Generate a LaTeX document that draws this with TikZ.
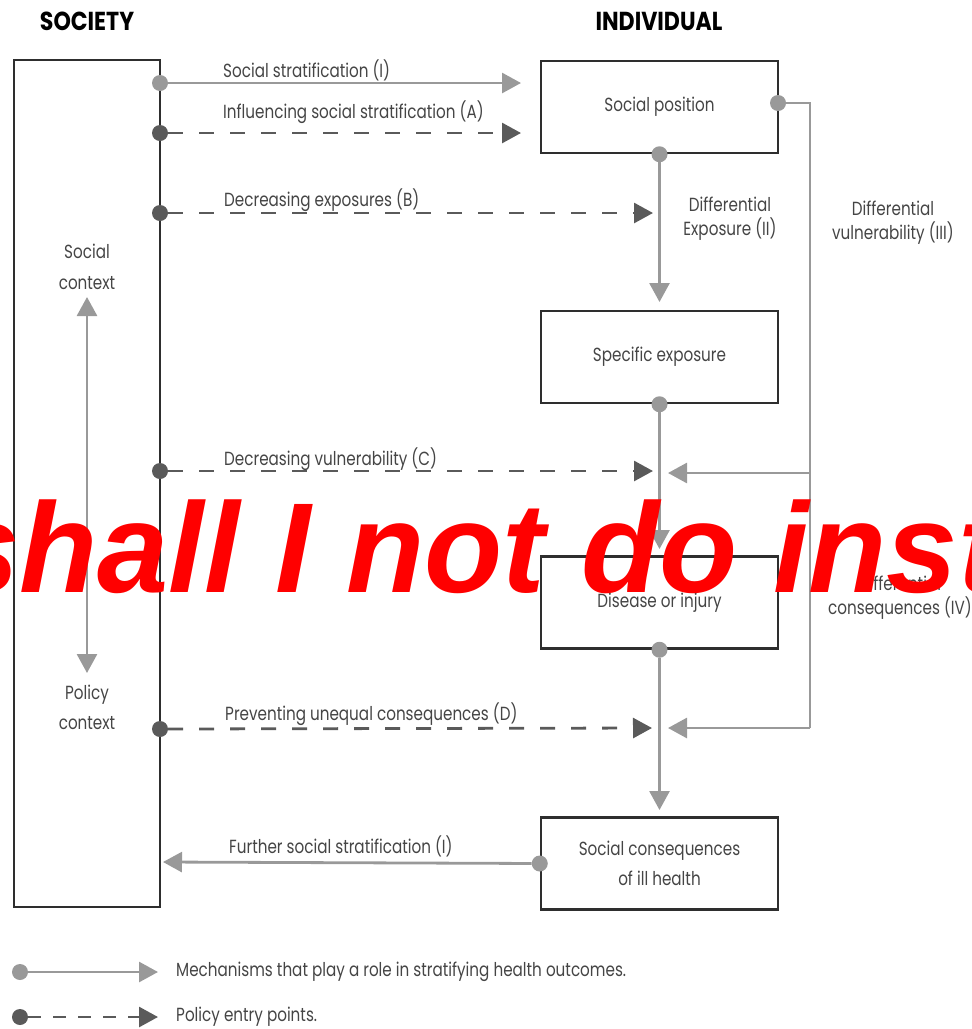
\documentclass[tikz,border=0pt]{standalone}
\usepackage{fontspec}
\setmainfont[FakeStretch=0.8]{Poppins}
\newfontfamily\ttlfont[FakeStretch=0.85]{Poppins}
\newfontfamily\wmfont{Liberation Sans}
\usetikzlibrary{arrows.meta}
\definecolor{mech}{HTML}{999999}
\definecolor{pol}{HTML}{5A5A5A}
\definecolor{boxc}{HTML}{2E2E2E}
\definecolor{txt}{HTML}{454545}
\begin{document}
\begin{tikzpicture}[x=1pt,y=-1pt,
  box/.style={draw=boxc,line width=2.5pt,minimum width=237pt,minimum height=92pt,inner sep=0pt,text=txt,font=\fontsize{19}{30}\selectfont,align=center},
  lbl/.style={text=txt,font=\fontsize{19}{24}\selectfont,inner sep=0pt},
  ttl/.style={text=black,font=\ttlfont\bfseries\fontsize{26}{26}\selectfont,inner sep=0pt},
  mline/.style={draw=mech,line width=2.8pt},
  pline/.style={draw=pol,line width=2.8pt,dash pattern=on 15pt off 16pt},
  mtip/.style={-{Triangle[length=19pt,width=20pt]}},
  mdot/.style={circle,fill=mech,minimum size=16pt,inner sep=0pt},
  pdot/.style={circle,fill=pol,minimum size=16pt,inner sep=0pt},
]
\useasboundingbox (0,0) rectangle (972,1029);
\clip (0,0) rectangle (972,1029);

% titles
\node[ttl] (tsoc) at (87,21) {SOCIETY};
\node[ttl] (tind) at (659,21) {INDIVIDUAL};

% boxes
\node[draw=boxc,line width=2.5pt,minimum width=146pt,minimum height=847pt,inner sep=0pt] (soc) at (87,483.5) {};
\node[box] (sp) at (659.5,107) {\raisebox{-4pt}{Social position}};
\node[box] (se) at (659.5,357) {Specific exposure};
\node[box] (di) at (659.5,602.5) {Disease or injury};
\node[box] (sc) at (659.5,863.5) {Social consequences\\of ill health};

% society inner texts
\node[lbl,align=center,font=\fontsize{19}{31}\selectfont] (ctxs) at (87,267) {Social\\context};
\node[lbl,align=center,font=\fontsize{19}{30}\selectfont] (ctxp) at (87,707) {Policy\\context};
\coordinate (ca) at (87,297);
\coordinate (cb) at (87,673);
\draw[mline,{Triangle[length=19pt,width=20pt]}-{Triangle[length=19pt,width=20pt]}] (ca) -- (cb);

% dots on society
\node[mdot] (d1) at (160,83) {};
\node[pdot] (dA) at (160,133) {};
\node[pdot] (dB) at (160,213) {};
\node[pdot] (dC) at (160,471) {};
\node[pdot] (dD) at (160,729) {};

% tips
\coordinate (t1) at (521,83);
\coordinate (tA) at (521,133);
\coordinate (tB) at (653,213);
\coordinate (tC) at (653,471);
\coordinate (tD) at (652,728);

\draw[mline,mtip] (d1) -- (t1);
\draw[pline,mtip,pol] (dA) -- (tA);
\draw[pline,mtip,pol] (dB) -- (tB);
\draw[pline,mtip,pol] (dC) -- (tC);
\draw[pline,mtip,pol] (dD) -- (tD);

\node[lbl,anchor=base west] (l1) at (223,77) {Social stratification (I)};
\node[lbl,anchor=base west] (lA) at (223,118) {Influencing social stratification (A)};
\node[lbl,anchor=base west] (lB) at (224,206) {Decreasing exposures (B)};
\node[lbl,anchor=base west] (lC) at (224,465) {Decreasing vulnerability (C)};
\node[lbl,anchor=base west] (lD) at (225,720) {Preventing unequal consequences (D)};

% vertical chain
\node[mdot] (sps) at (sp.south) {};
\node[mdot] (ses) at (se.south) {};
\node[mdot] (dis) at (di.south) {};
\coordinate (t2) at (659.5,302);
\coordinate (t3) at (659.5,549);
\coordinate (t4) at (659.5,810);
\draw[mline,mtip] (sps) -- (t2);
\draw[mline,mtip] (ses) -- (t3);
\draw[mline,mtip] (dis) -- (t4);

\node[lbl,align=center] (lII) at (730,219) {Differential\\Exposure (II)};

% right branch
\node[mdot] (spe) at (778,103) {};
\coordinate (r2) at (810,473);
\coordinate (r3) at (810,728);
\coordinate (tr2) at (668,473);
\coordinate (tr3) at (668,728);
\draw[mline] (spe) -| (r3);
\draw[mline,mtip] (r2) -- (tr2);
\draw[mline,mtip] (r3) -- (tr3);

\node[lbl,align=center] (lIII) at (893,223) {Differential\\vulnerability (III)};
\node[lbl,align=center] (lIV) at (900,598) {Differential\\consequences (IV)};

% further stratification
\node[mdot] (scw) at (sc.west) {};
\coordinate (tf) at (163,862);
\draw[mline,mtip] (scw) -- (tf);
\node[lbl,anchor=base west] (lF) at (229,853) {Further social stratification (I)};

% legend
\node[mdot] (g1) at (20,972) {};
\coordinate (g1t) at (158,972);
\draw[mline,mtip] (g1) -- (g1t);
\node[lbl,anchor=west] (g1l) at (176,972) {Mechanisms that play a role in stratifying health outcomes.};
\node[pdot] (g2) at (20,1017) {};
\coordinate (g2t) at (158,1017);
\draw[pline,mtip,pol,dash pattern=on 13pt off 12pt] (g2) -- (g2t);
\node[lbl,anchor=west] (g2l) at (176,1017) {Policy entry points.};

% overlay text
\node[anchor=base west,text=red,font=\wmfont\bfseries\itshape\fontsize{128}{128}\selectfont,inner sep=0pt] (wm) at (-52,592) {shall I not do inst};
\end{tikzpicture}
\end{document}
